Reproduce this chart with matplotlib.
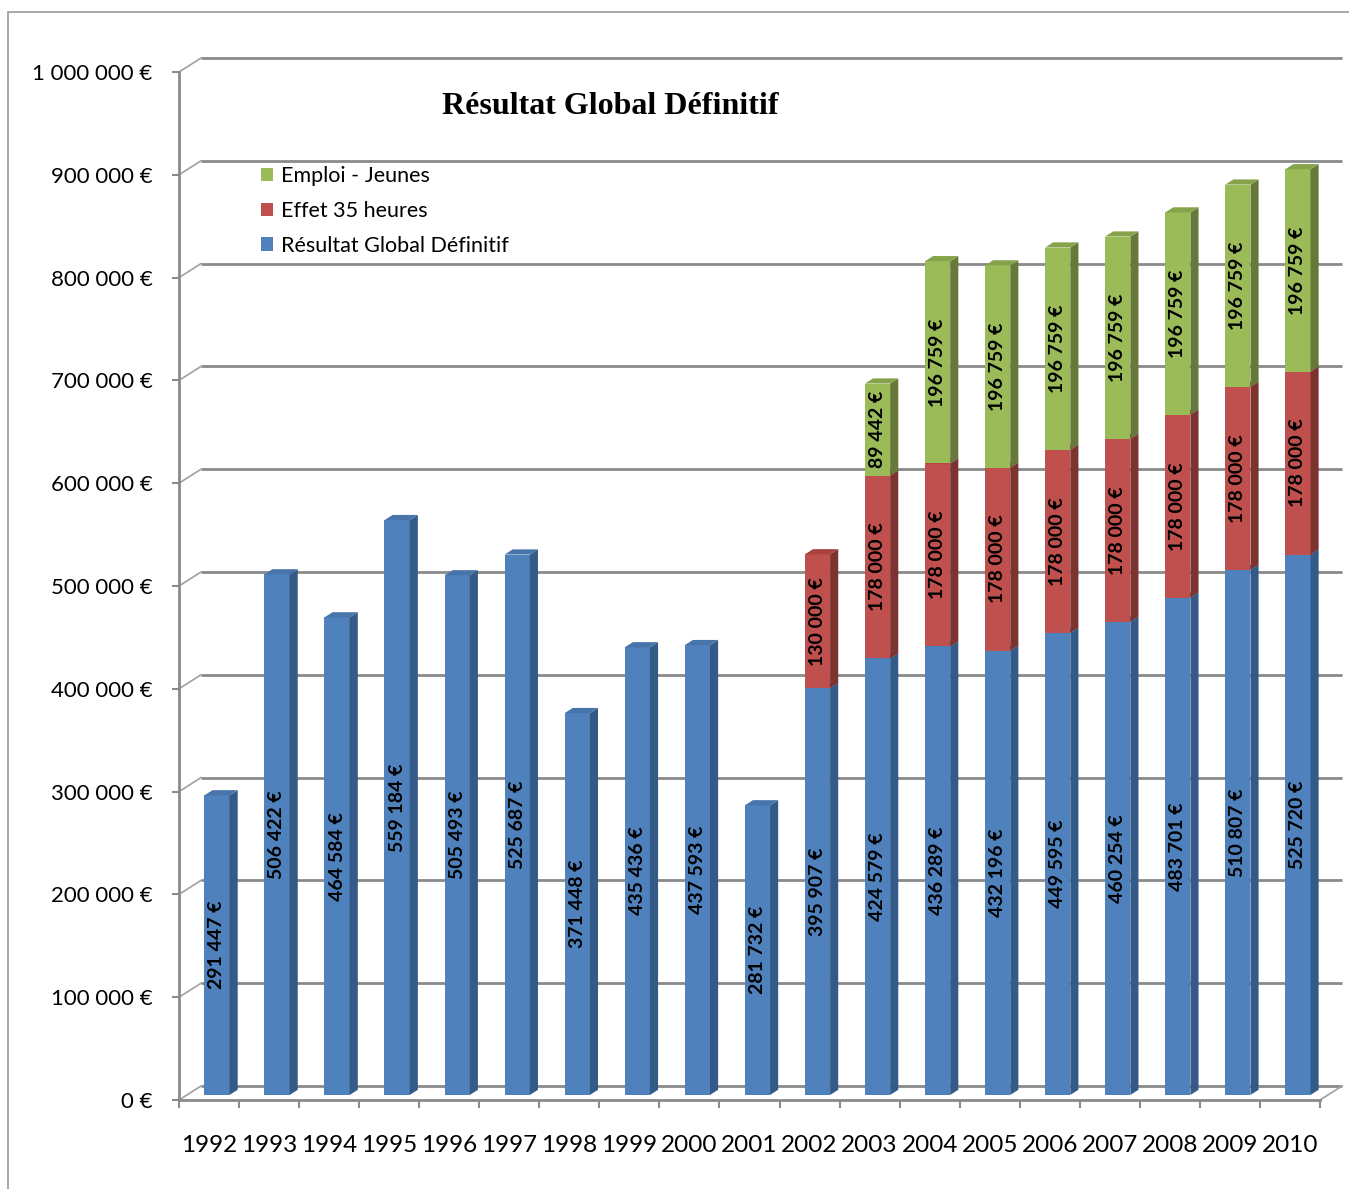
import matplotlib
matplotlib.use("Agg")
import matplotlib.pyplot as plt
from matplotlib.patches import Polygon, Rectangle, Patch

years = [str(y) for y in range(1992, 2011)]
resultat = [291447, 506422, 464584, 559184, 505493, 525687, 371448, 435436,
            437593, 281732, 395907, 424579, 436289, 432196, 449595, 460254,
            483701, 510807, 525720]
effet_35h = [0] * 10 + [130000] + [178000] * 8
emploi_jeunes = [0] * 11 + [89442] + [196759] * 7
y_ticks = list(range(0, 1000001, 100000))

series = [
    ("Résultat Global Définitif", resultat, "#4F81BD", "#345A88", "#4774AA"),
    ("Effet 35 heures", effet_35h, "#C0504D", "#7D3330", "#A9423F"),
    ("Emploi - Jeunes", emploi_jeunes, "#9BBB59", "#67793A", "#86A34B"),
]

def euro(v):
    return f"{v:,}".replace(",", " ") + " €"

W, H = 1349, 1189
fig = plt.figure(figsize=(W / 100, H / 100), dpi=100)
fig.patch.set_facecolor("white")

# outer chart frame
fig.patches.append(Rectangle((8 / W, -0.05), 1.2, 1.05 - 12 / H,
                             transform=fig.transFigure, fill=False,
                             edgecolor="#9a9a9a", lw=1.2))

left, right, bottom, top = 179, 1320, 1100, 72
ax = fig.add_axes([left / W, 1 - bottom / H, (right - left) / W, (bottom - top) / H])
n = len(years)
ax.set_xlim(0, n)
ax.set_ylim(0, 1000000)
ax.set_facecolor("none")

# depth of the back wall, in data units
DX = 22 / ((right - left) / n)
DY = 14 / ((bottom - top) / 1000000)
grid_c = "#8a8a8a"

for v in y_ticks:
    ax.plot([DX, n + DX], [v + DY, v + DY], color=grid_c, lw=2.0,
            clip_on=False, zorder=1, solid_capstyle="butt")
    ax.plot([0, DX], [v, v + DY], color="#a0a0a0", lw=1.2,
            clip_on=False, zorder=1)
ax.plot([n, n + DX], [0, DY], color="#a0a0a0", lw=1.2, clip_on=False, zorder=1)

# 3d-looking stacked columns
BW = 0.42
f0, f1 = 0.36, 0.73
dd = f1 - f0
for i in range(n):
    x0 = i + 0.5 - BW / 2 + f0 * DX
    base = 0
    for name, vals, c_front, c_side, c_top in series:
        v = vals[i]
        if v == 0:
            continue
        b, t = base, base + v
        z = 3
        ax.add_patch(Rectangle((x0, b + f0 * DY), BW, v, facecolor=c_front,
                               edgecolor="none", clip_on=False, zorder=z))
        ax.add_patch(Polygon([(x0 + BW, b + f0 * DY), (x0 + BW + dd * DX, b + f1 * DY),
                              (x0 + BW + dd * DX, t + f1 * DY), (x0 + BW, t + f0 * DY)],
                             closed=True, facecolor=c_side, edgecolor="none",
                             clip_on=False, zorder=z))
        ax.add_patch(Polygon([(x0, t + f0 * DY), (x0 + BW, t + f0 * DY),
                              (x0 + BW + dd * DX, t + f1 * DY), (x0 + dd * DX, t + f1 * DY)],
                             closed=True, facecolor=c_top, edgecolor="none",
                             clip_on=False, zorder=z))
        ax.text(x0 + BW / 2, b + v / 2 + f0 * DY, euro(v), rotation=90,
                ha="center", va="center", fontsize=14, fontweight="bold",
                family="Lato", color="black", zorder=5)
        base = t

for s in ["top", "right"]:
    ax.spines[s].set_visible(False)
for s in ["left", "bottom"]:
    ax.spines[s].set_color(grid_c)
    ax.spines[s].set_linewidth(2.0)
    ax.spines[s].set_zorder(2)

ax.set_yticks(y_ticks)
ax.set_yticklabels([euro(v) for v in y_ticks], family="Lato", fontsize=16)
ax.tick_params(axis="y", length=5, width=1.5, color=grid_c, pad=14)
ax.set_xticks(range(n + 1))
ax.set_xticklabels([])
ax.set_xticks([i + 0.5 for i in range(n)], minor=True)
ax.set_xticklabels(years, minor=True, family="Lato", fontsize=17.5)
ax.tick_params(axis="x", which="major", length=6, width=1.5, color=grid_c, direction="out")
ax.tick_params(axis="x", which="minor", length=0, pad=25.5)

fig.text(610 / W, 1 - 107 / H, "Résultat Global Définitif", ha="center", va="center",
         family="Liberation Serif", fontweight="bold", fontsize=23)

handles = [Patch(facecolor=c, edgecolor="none", label=name)
           for name, vals, c, _, _ in reversed(series)]
fig.legend(handles=handles, loc="upper left", bbox_to_anchor=(242 / W, 1 - 147 / H),
           frameon=False, prop={"family": "Lato", "size": 15.5},
           handlelength=0.56, handleheight=0.56, handletextpad=0.37, labelspacing=0.68)

fig.savefig("out.png", dpi=100)
